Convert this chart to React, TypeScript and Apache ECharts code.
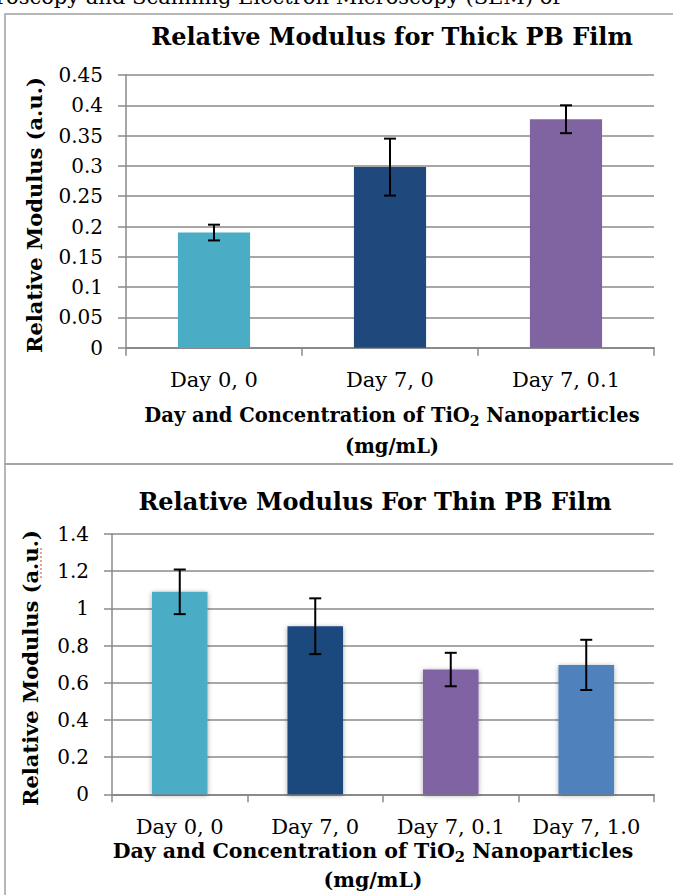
import React, { useEffect, useRef } from "react";
import * as echarts from "echarts";

// ---- Data ----
const thickCategories = ["Day 0, 0", "Day 7, 0", "Day 7, 0.1"];
const thickValues = [0.19, 0.298, 0.377];
const thickErrors = [0.013, 0.047, 0.023];

const thinCategories = ["Day 0, 0", "Day 7, 0", "Day 7, 0.1", "Day 7, 1.0"];
const thinValues = [1.089, 0.904, 0.671, 0.696];
const thinErrors = [0.12, 0.15, 0.09, 0.135];

const barColors = ["#4BACC6", "#1F497D", "#8064A2", "#4F81BD"];

const thickTitle = "Relative Modulus for Thick PB Film";
const thinTitle = "Relative Modulus For Thin PB Film";
const yName = "Relative Modulus (a.u.)";
const xNamePre = "Day and Concentration of TiO";
const xNameSub = "2";
const xNamePost = " Nanoparticles";
const xNameLine2 = "(mg/mL)";
const pageTextAbove = "roscopy and Scanning Electron Microscopy (SEM) of";

const thickAxis = { min: 0, max: 0.45, interval: 0.05 };
const thinAxis = { min: 0, max: 1.4, interval: 0.2 };

const FONT = "DejaVu Serif";
const GRID_COLOR = "#8a8a8a";

function errorRenderItem(params: any, api: any) {
  const x = api.value(0);
  const v = api.value(1);
  const e = api.value(2);
  const hi = api.coord([x, v + e]);
  const lo = api.coord([x, v - e]);
  const half = 6;
  const style = { stroke: "#000", lineWidth: 2 };
  return {
    type: "group",
    children: [
      { type: "line", shape: { x1: hi[0], y1: hi[1], x2: lo[0], y2: lo[1] }, style },
      { type: "line", shape: { x1: hi[0] - half, y1: hi[1], x2: hi[0] + half, y2: hi[1] }, style },
      { type: "line", shape: { x1: lo[0] - half, y1: lo[1], x2: lo[0] + half, y2: lo[1] }, style },
    ],
  };
}

function xAxisFor(idx: number, cats: string[]) {
  return {
    type: "category",
    gridIndex: idx,
    data: cats,
    axisLine: { show: true, lineStyle: { color: GRID_COLOR, width: 2 } },
    axisTick: { show: true, length: 8, alignWithLabel: false, lineStyle: { color: GRID_COLOR, width: 1.5 } },
    axisLabel: { interval: 0, margin: 22, color: "#000", fontFamily: FONT, fontSize: 21 },
    splitLine: { show: false },
  };
}

function yAxisFor(idx: number, ax: { min: number; max: number; interval: number }) {
  return {
    type: "value",
    gridIndex: idx,
    min: ax.min,
    max: ax.max,
    interval: ax.interval,
    axisLine: { show: true, lineStyle: { color: GRID_COLOR, width: 1.5 } },
    axisTick: { show: true, length: 8, lineStyle: { color: GRID_COLOR, width: 1.5 } },
    axisLabel: { margin: 23, color: "#000", fontFamily: FONT, fontSize: 20 },
    splitLine: { show: true, lineStyle: { color: GRID_COLOR, width: 1.6 } },
  };
}

function txt(x: number, y: number, text: string, size: number, bold: boolean, extra: any = {}) {
  return {
    type: "text",
    x,
    y,
    silent: true,
    ...extra,
    style: {
      text,
      fill: "#000",
      fontFamily: FONT,
      fontSize: size,
      fontWeight: bold ? "bold" : "normal",
      align: "center",
      textAlign: "center",
      verticalAlign: "middle",
      textVerticalAlign: "middle",
      ...(extra.style || {}),
    },
  };
}

function xNameText(x: number, y: number, size: number) {
  const common = { fontFamily: FONT, fontWeight: "bold", fill: "#000" };
  return {
    type: "text",
    x,
    y,
    silent: true,
    style: {
      text: "{n|" + xNamePre + "}{s|" + xNameSub + "}{n|" + xNamePost + "}",
      align: "center",
      textAlign: "center",
      verticalAlign: "middle",
      textVerticalAlign: "middle",
      fill: "#000",
      rich: {
        n: { ...common, fontSize: size, lineHeight: 26 },
        s: { ...common, fontSize: size * 0.72, lineHeight: 14, verticalAlign: "bottom" },
      },
    },
  };
}

export default function App() {
  const ref = useRef<HTMLDivElement>(null);

  useEffect(() => {
    if (!ref.current) return;
    const chart = echarts.init(ref.current, undefined, { renderer: "svg" });

    const option: any = {
      animation: false,
      backgroundColor: "#fff",
      grid: [
        { left: 126, top: 75, width: 528, height: 272.7, containLabel: false },
        { left: 112, top: 534, width: 542, height: 260.3, containLabel: false },
      ],
      xAxis: [xAxisFor(0, thickCategories), xAxisFor(1, thinCategories)],
      yAxis: [yAxisFor(0, thickAxis), yAxisFor(1, thinAxis)],
      series: [
        {
          type: "bar",
          xAxisIndex: 0,
          yAxisIndex: 0,
          barWidth: "41%",
          data: thickValues.map((v, i) => ({ value: v, itemStyle: { color: barColors[i] } })),
        },
        {
          type: "custom",
          xAxisIndex: 0,
          yAxisIndex: 0,
          renderItem: errorRenderItem,
          encode: { x: 0, y: 1 },
          data: thickValues.map((v, i) => [i, v, thickErrors[i]]),
          z: 5,
        },
        {
          type: "bar",
          xAxisIndex: 1,
          yAxisIndex: 1,
          barWidth: "41%",
          data: thinValues.map((v, i) => ({
            value: v,
            itemStyle: {
              color: barColors[i],
              shadowBlur: 5,
              shadowColor: "rgba(0,0,0,0.35)",
              shadowOffsetY: 1,
            },
          })),
        },
        {
          type: "custom",
          xAxisIndex: 1,
          yAxisIndex: 1,
          renderItem: errorRenderItem,
          encode: { x: 0, y: 1 },
          data: thinValues.map((v, i) => [i, v, thinErrors[i]]),
          z: 5,
        },
      ],
      graphic: [
        // page text cut off above the charts
        {
          type: "text",
          x: -4,
          y: -3.5,
          silent: true,
          style: {
            text: pageTextAbove,
            fill: "#000",
            fontFamily: FONT,
            fontSize: 21,
            align: "left",
            textAlign: "left",
            verticalAlign: "middle",
            textVerticalAlign: "middle",
          },
        },
        // panel borders
        {
          type: "rect",
          silent: true,
          shape: { x: 5, y: 14, width: 760, height: 450 },
          style: { fill: "none", stroke: "#a0a0a0", lineWidth: 1.5 },
        },
        {
          type: "rect",
          silent: true,
          shape: { x: 5, y: 464, width: 760, height: 500 },
          style: { fill: "none", stroke: "#a0a0a0", lineWidth: 1.5 },
        },
        // titles
        txt(392, 36, thickTitle, 24, true),
        txt(375, 501, thinTitle, 24, true),
        // y axis names
        txt(34, 215, yName, 21, true, { rotation: Math.PI / 2 }),
        txt(30, 668, yName, 21, true, { rotation: Math.PI / 2 }),
        // spell-check squiggle under "a.u." in the lower chart's axis name
        {
          type: "line",
          silent: true,
          shape: { x1: 41, y1: 548, x2: 41, y2: 579 },
          style: { stroke: "#e06060", lineWidth: 1.2, lineDash: [2, 2] },
        },
        // x axis names
        xNameText(392, 415, 19.5),
        txt(392, 446, xNameLine2, 19.5, true),
        xNameText(373, 851, 20.5),
        txt(373, 880, xNameLine2, 20.5, true),
      ],
    };

    chart.setOption(option);
    return () => chart.dispose();
  }, []);

  return (
    <div
      ref={ref}
      style={{ position: "absolute", left: 0, top: 0, width: 673, height: 895, background: "#fff" }}
    />
  );
}
